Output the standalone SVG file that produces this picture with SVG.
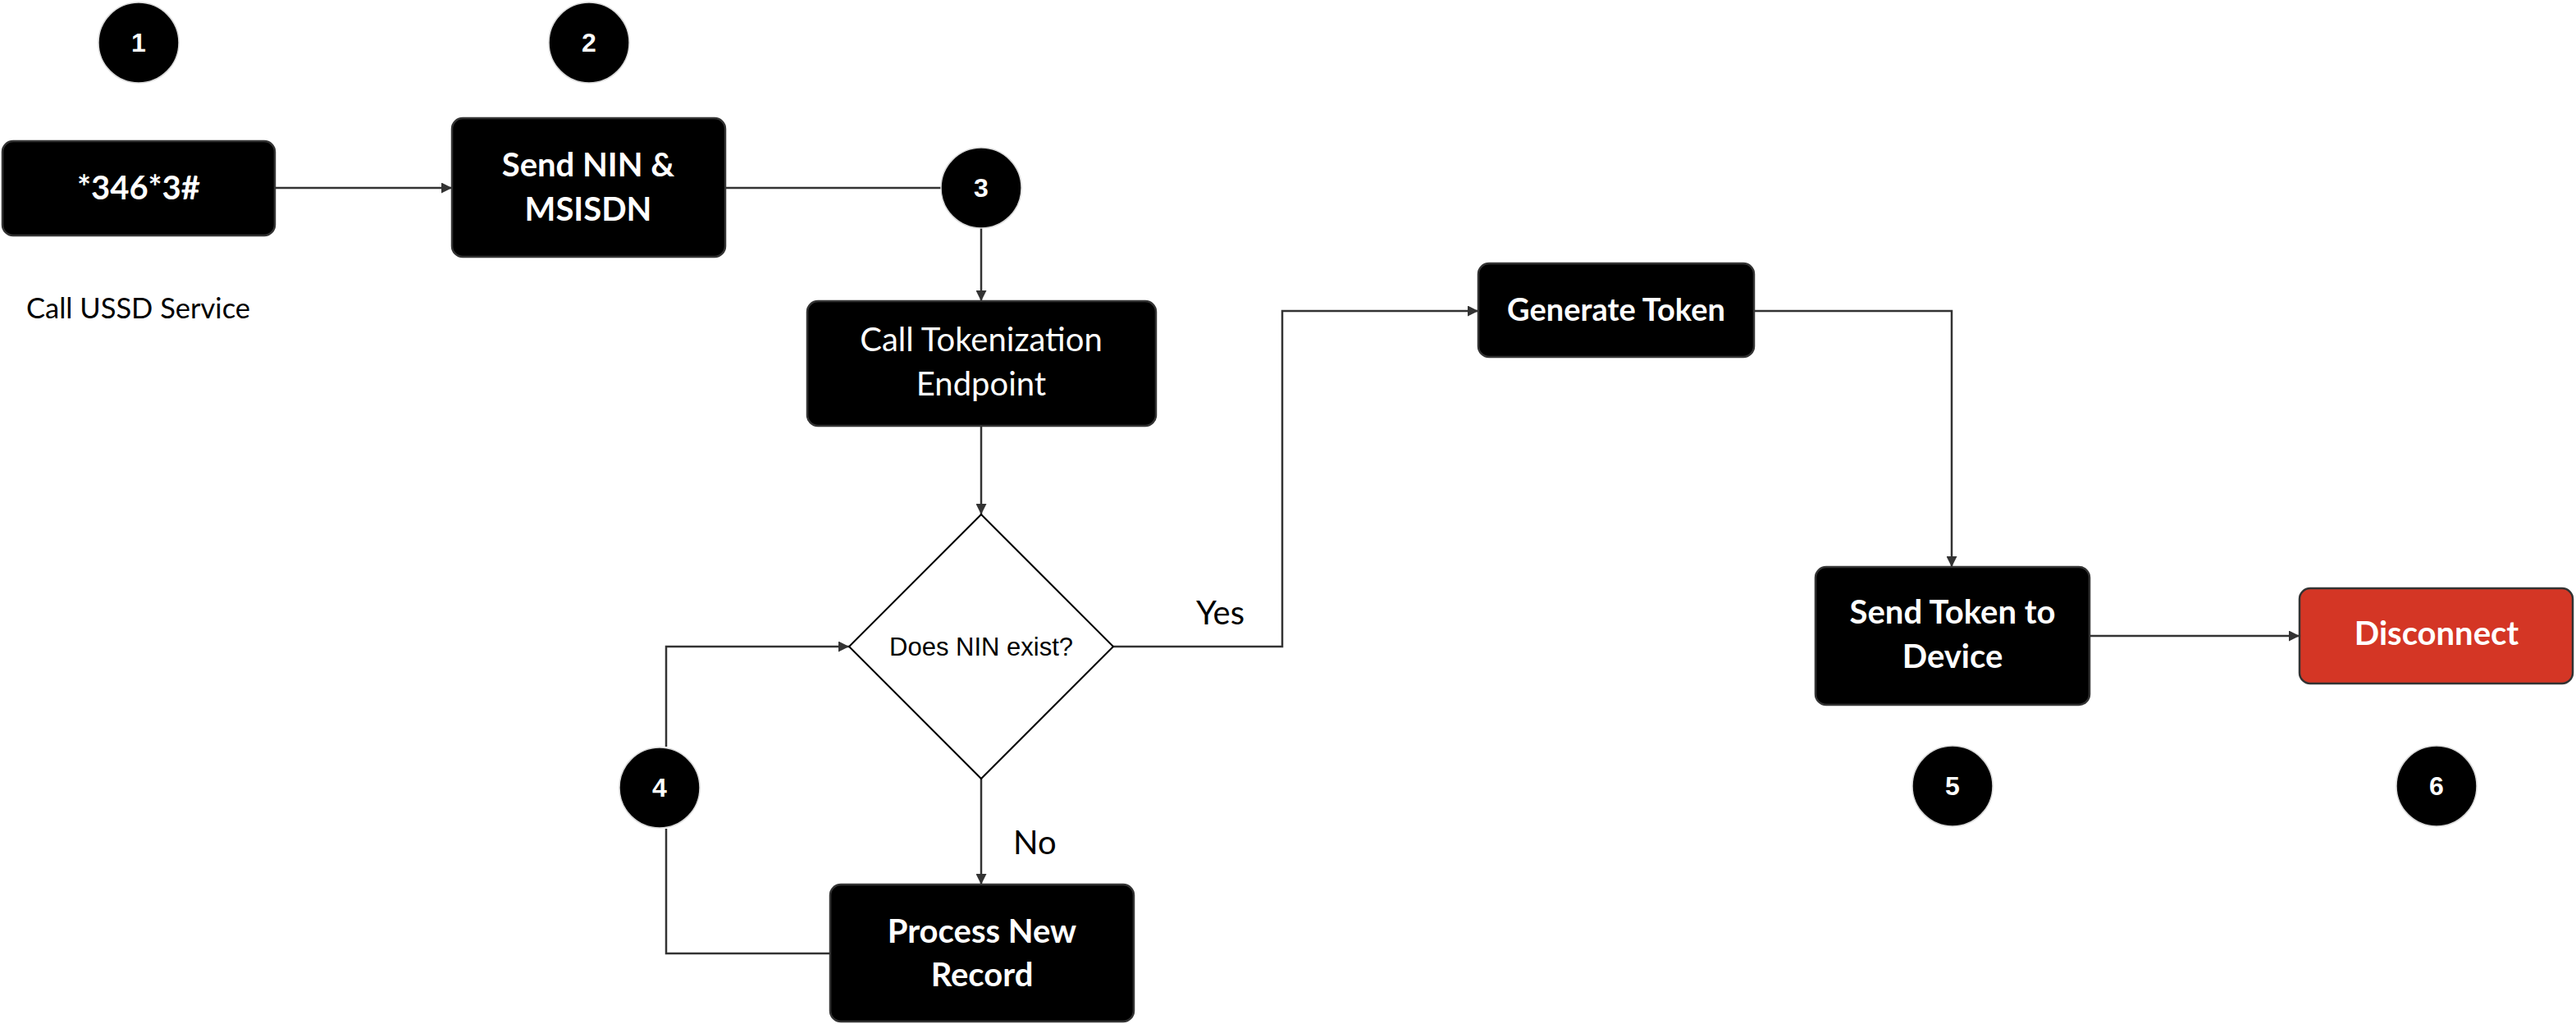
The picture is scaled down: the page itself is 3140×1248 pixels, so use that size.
<svg xmlns="http://www.w3.org/2000/svg" width="3140" height="1248" viewBox="0 0 3140 1248">
<style>
.box{fill:#000;stroke:#333;stroke-width:2.5}
.red{fill:#D43625;stroke:#333;stroke-width:2.5}
.dia{fill:#fff;stroke:#000;stroke-width:2}
.num{fill:#000;stroke:#d8d8d8;stroke-width:1.5}
.numt{font-family:"Liberation Sans",Arial,sans-serif;font-weight:bold;font-size:32px;fill:#fff;text-anchor:middle}
.bt{font-family:Lato,"Noto Sans",sans-serif;font-weight:bold;font-size:40px;fill:#fff;text-anchor:middle}
.rt{font-family:Lato,"Noto Sans",sans-serif;font-size:40px;fill:#fff;text-anchor:middle}
.lbl{font-family:Lato,"Noto Sans",sans-serif;font-size:40px;fill:#000}
.cap{font-family:Lato,"Noto Sans",sans-serif;font-size:34.5px;fill:#000}
.dt{font-family:"Liberation Sans",Arial,sans-serif;font-size:31px;fill:#000;text-anchor:middle}
.conn{fill:none;stroke:#333;stroke-width:2.5}
</style>
<defs>
<marker id="arr" viewBox="0 0 10 10" refX="10" refY="5" markerWidth="13" markerHeight="13" markerUnits="userSpaceOnUse" orient="auto">
<path d="M0,0 L10,5 L0,10 z" fill="#333"/>
</marker>
</defs>
<rect width="3140" height="1248" fill="#fff"/>

<g id="connectors">
<path class="conn" d="M335,229 H551" marker-end="url(#arr)"/>
<path class="conn" d="M884,229 H1147"/>
<path class="conn" d="M1196,278 V367" marker-end="url(#arr)"/>
<path class="conn" d="M1196,519 V627" marker-end="url(#arr)"/>
<path class="conn" d="M1196,949 V1078" marker-end="url(#arr)"/>
<path class="conn" d="M1012,1162 H812 V1010"/>
<path class="conn" d="M812,910 V788 H1035" marker-end="url(#arr)"/>
<path class="conn" d="M1357,788 H1563 V379 H1802" marker-end="url(#arr)"/>
<path class="conn" d="M2138,379 H2379 V691" marker-end="url(#arr)"/>
<path class="conn" d="M2547,775 H2803" marker-end="url(#arr)"/>
<text class="lbl" x="1458" y="761">Yes</text>
<text class="lbl" x="1235" y="1041">No</text>
</g>

<g id="step1">
<circle class="num" cx="169" cy="52" r="49"/>
<text class="numt" x="169" y="63">1</text>
</g>
<g id="step2">
<circle class="num" cx="718" cy="52" r="49"/>
<text class="numt" x="718" y="63">2</text>
</g>
<g id="step3">
<circle class="num" cx="1196" cy="229" r="49"/>
<text class="numt" x="1196" y="240">3</text>
</g>
<g id="step4">
<circle class="num" cx="804" cy="960" r="49"/>
<text class="numt" x="804" y="971">4</text>
</g>
<g id="step5">
<circle class="num" cx="2380" cy="958" r="49"/>
<text class="numt" x="2380" y="969">5</text>
</g>
<g id="step6">
<circle class="num" cx="2970" cy="958" r="49"/>
<text class="numt" x="2970" y="969">6</text>
</g>

<g id="ussd">
<rect class="box" x="3" y="172" width="332" height="115" rx="13"/>
<text class="bt" x="169" y="243">*346*3#</text>
</g>
<text class="cap" x="32" y="388">Call USSD Service</text>

<g id="send-nin">
<rect class="box" x="551" y="144" width="333" height="169" rx="13"/>
<text class="bt" x="717" y="215">Send NIN &amp;</text>
<text class="bt" x="717" y="269">MSISDN</text>
</g>

<g id="tokenization">
<rect class="box" x="984" y="367" width="425" height="152" rx="13"/>
<text class="rt" x="1196" y="428">Call Tokenization</text>
<text class="rt" x="1196" y="482">Endpoint</text>
</g>

<g id="decision">
<polygon class="dia" points="1196,627 1357,788 1196,949 1035,788"/>
<text class="dt" x="1196" y="799">Does NIN exist?</text>
</g>

<g id="process-new">
<rect class="box" x="1012" y="1078" width="370" height="167" rx="13"/>
<text class="bt" x="1197" y="1149">Process New</text>
<text class="bt" x="1197" y="1202">Record</text>
</g>

<g id="generate-token">
<rect class="box" x="1802" y="321" width="336" height="114" rx="13"/>
<text class="bt" x="1970" y="391" style="font-size:38px">Generate Token</text>
</g>

<g id="send-token">
<rect class="box" x="2213" y="691" width="334" height="168" rx="13"/>
<text class="bt" x="2380" y="760">Send Token to</text>
<text class="bt" x="2380" y="814">Device</text>
</g>

<g id="disconnect">
<rect class="red" x="2803" y="717" width="333" height="116" rx="13"/>
<text class="bt" x="2970" y="786">Disconnect</text>
</g>
</svg>
